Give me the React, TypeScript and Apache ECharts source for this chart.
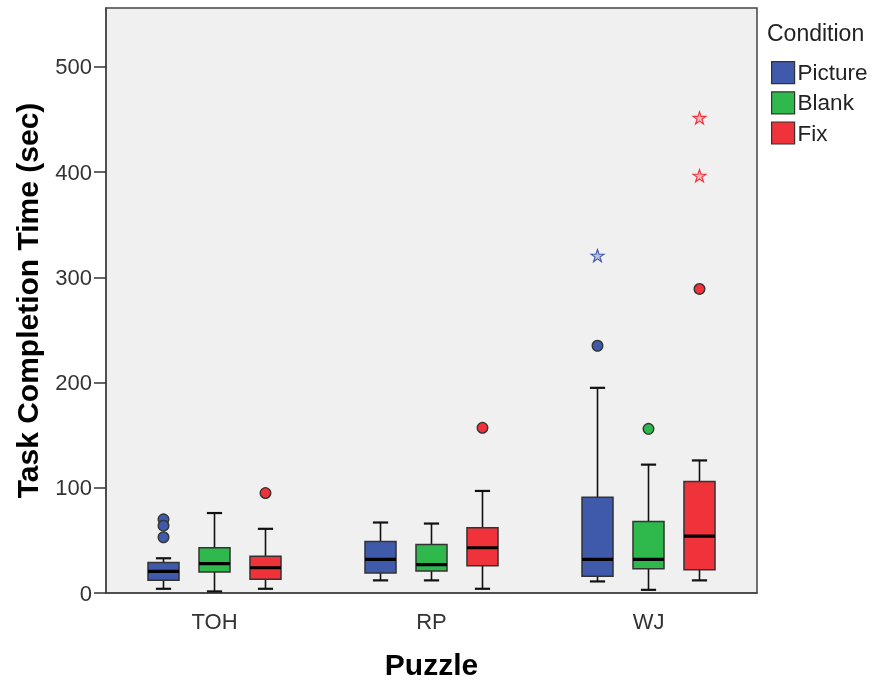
import React, { useEffect, useRef } from "react";
import * as echarts from "echarts";

const categories = ["TOH", "RP", "WJ"];
const conditions = ["Picture", "Blank", "Fix"];
const colors = ["#3f5aab", "#2fb84b", "#f0323b"];

// [low whisker, Q1, median, Q3, high whisker] per puzzle
const pictureBox = [
  [4, 12, 20.5, 29, 33],
  [12, 19, 32, 49, 67],
  [11, 16, 32, 91, 195],
];
const blankBox = [
  [1.5, 20, 28, 43, 76],
  [12, 21, 27, 46, 66],
  [3, 23, 32, 68, 122],
];
const fixBox = [
  [4, 13, 24, 35, 61],
  [4, 26, 43, 62, 97],
  [12, 22, 54, 106, 126],
];

// outliers (circles): [puzzle index, value]
const pictureOutliers = [[0, 70], [0, 64], [0, 53], [2, 235]];
const blankOutliers = [[2, 156]];
const fixOutliers = [[0, 95], [1, 157], [2, 289]];

// extremes (stars): [puzzle index, value]
const pictureExtremes = [[2, 320]];
const blankExtremes: number[][] = [];
const fixExtremes = [[2, 451], [2, 396]];

const yTicks = [0, 100, 200, 300, 400, 500];

const boxes = [pictureBox, blankBox, fixBox];
const outliers = [pictureOutliers, blankOutliers, fixOutliers];
const extremes = [pictureExtremes, blankExtremes, fixExtremes];

const OFFSET = 0.235;
const BOX_W = 0.143;
const CAP_W = 0.07;

function rgba(hex: string, a: number) {
  const n = parseInt(hex.slice(1), 16);
  const r = (n >> 16) & 255, g = (n >> 8) & 255, b = n & 255;
  return `rgba(${r},${g},${b},${a})`;
}

function boxRenderer(ci: number) {
  return (params: any, api: any) => {
    const cat = api.value(0);
    const band = api.size([1, 0])[0];
    const cx = api.coord([cat, 0])[0] + (ci - 1) * OFFSET * band;
    const bw = BOX_W * band;
    const cw = CAP_W * band;
    const y = (i: number) => api.coord([cat, api.value(i)])[1];
    const yLow = y(1), yQ1 = y(2), yMed = y(3), yQ3 = y(4), yHigh = y(5);
    const stroke = { stroke: "#111", lineWidth: 1.6 };
    return {
      type: "group",
      children: [
        { type: "line", shape: { x1: cx, y1: yQ3, x2: cx, y2: yHigh }, style: stroke },
        { type: "line", shape: { x1: cx, y1: yQ1, x2: cx, y2: yLow }, style: stroke },
        { type: "line", shape: { x1: cx - cw / 2, y1: yHigh, x2: cx + cw / 2, y2: yHigh }, style: { stroke: "#111", lineWidth: 2.2 } },
        { type: "line", shape: { x1: cx - cw / 2, y1: yLow, x2: cx + cw / 2, y2: yLow }, style: { stroke: "#111", lineWidth: 2.2 } },
        {
          type: "rect",
          shape: { x: cx - bw / 2, y: yQ3, width: bw, height: yQ1 - yQ3 },
          style: { fill: colors[ci], stroke: "#333", lineWidth: 1.5 },
        },
        { type: "line", shape: { x1: cx - bw / 2, y1: yMed, x2: cx + bw / 2, y2: yMed }, style: { stroke: "#000", lineWidth: 3.2 } },
      ],
    };
  };
}

function outlierRenderer(ci: number) {
  return (params: any, api: any) => {
    const cat = api.value(0);
    const band = api.size([1, 0])[0];
    const p = api.coord([cat, api.value(1)]);
    const cx = p[0] + (ci - 1) * OFFSET * band;
    return {
      type: "circle",
      shape: { cx, cy: p[1], r: 5.3 },
      style: { fill: colors[ci], stroke: "#333", lineWidth: 1.3 },
    };
  };
}

function extremeRenderer(ci: number) {
  return (params: any, api: any) => {
    const cat = api.value(0);
    const band = api.size([1, 0])[0];
    const p = api.coord([cat, api.value(1)]);
    const cx = p[0] + (ci - 1) * OFFSET * band;
    const cy = p[1];
    const pts: number[][] = [];
    for (let k = 0; k < 10; k++) {
      const r = k % 2 === 0 ? 6.8 : 2.6;
      const a = -Math.PI / 2 + (k * Math.PI) / 5;
      pts.push([cx + r * Math.cos(a), cy + r * Math.sin(a)]);
    }
    return {
      type: "polygon",
      shape: { points: pts },
      style: { fill: rgba(colors[ci], 0.3), stroke: colors[ci], lineWidth: 1.1 },
    };
  };
}

export default function App() {
  const ref = useRef<HTMLDivElement>(null);
  useEffect(() => {
    if (!ref.current) return;
    const chart = echarts.init(ref.current, undefined, { renderer: "svg" });
    const font = "'Liberation Sans', Arial, sans-serif";
    const series: any[] = [];
    conditions.forEach((name, ci) => {
      series.push({
        name,
        type: "custom",
        renderItem: boxRenderer(ci),
        itemStyle: { color: colors[ci] },
        encode: { x: 0, y: [1, 2, 3, 4, 5] },
        data: boxes[ci].map((b, i) => [i, ...b]),
        z: 3,
      });
    });
    conditions.forEach((name, ci) => {
      series.push({
        name: name + " outliers",
        type: "custom",
        renderItem: outlierRenderer(ci),
        itemStyle: { color: colors[ci] },
        encode: { x: 0, y: 1 },
        data: outliers[ci],
        z: 4,
      });
      series.push({
        name: name + " extremes",
        type: "custom",
        renderItem: extremeRenderer(ci),
        itemStyle: { color: colors[ci] },
        encode: { x: 0, y: 1 },
        data: extremes[ci],
        z: 4,
      });
    });
    chart.setOption({
      animation: false,
      textStyle: { fontFamily: font },
      title: {
        text: "Condition",
        left: 767,
        top: 21,
        padding: 0,
        textStyle: { fontSize: 23, fontWeight: "normal", color: "#222", fontFamily: font },
      },
      legend: {
        data: conditions,
        orient: "vertical",
        left: 771,
        top: 61,
        padding: 0,
        icon: "rect",
        itemWidth: 23,
        itemHeight: 22,
        itemGap: 7,
        itemStyle: { borderColor: "#333", borderWidth: 1.2 },
        textStyle: { fontSize: 22.5, color: "#222", fontFamily: font, padding: [0, 0, 0, -2] },
        selectedMode: false,
      },
      grid: {
        left: 106,
        top: 8,
        right: 119,
        bottom: 90,
        show: true,
        backgroundColor: "#f0f0f0",
        borderColor: "#444",
        borderWidth: 1.5,
      },
      xAxis: {
        type: "category",
        data: categories,
        boundaryGap: true,
        name: "Puzzle",
        nameLocation: "middle",
        nameGap: 56,
        nameTextStyle: { fontSize: 30, fontWeight: "bold", color: "#000", fontFamily: font },
        axisLine: { lineStyle: { color: "#444", width: 1.5 } },
        axisTick: { alignWithLabel: true, length: 12, lineStyle: { color: "#333", width: 1.5 } },
        axisLabel: { fontSize: 22, color: "#333", margin: 17, fontFamily: font },
      },
      yAxis: {
        type: "value",
        min: 0,
        max: 556,
        interval: 100,
        name: "Task Completion Time (sec)",
        nameLocation: "middle",
        nameGap: 64,
        nameRotate: 90,
        nameTextStyle: { fontSize: 30, fontWeight: "bold", color: "#000", fontFamily: font },
        splitLine: { show: false },
        axisLine: { show: true, lineStyle: { color: "#444", width: 1.5 } },
        axisTick: { show: true, length: 12, lineStyle: { color: "#333", width: 1.5 } },
        axisLabel: {
          fontSize: 22,
          color: "#333",
          margin: 14,
          showMaxLabel: false,
          fontFamily: font,
          formatter: (v: number) => (yTicks.includes(v) ? String(v) : ""),
        },
      },
      series,
    });
    return () => chart.dispose();
  }, []);
  return (
    <div
      ref={ref}
      style={{ position: "fixed", left: 0, top: 0, width: 876, height: 684 }}
    />
  );
}
